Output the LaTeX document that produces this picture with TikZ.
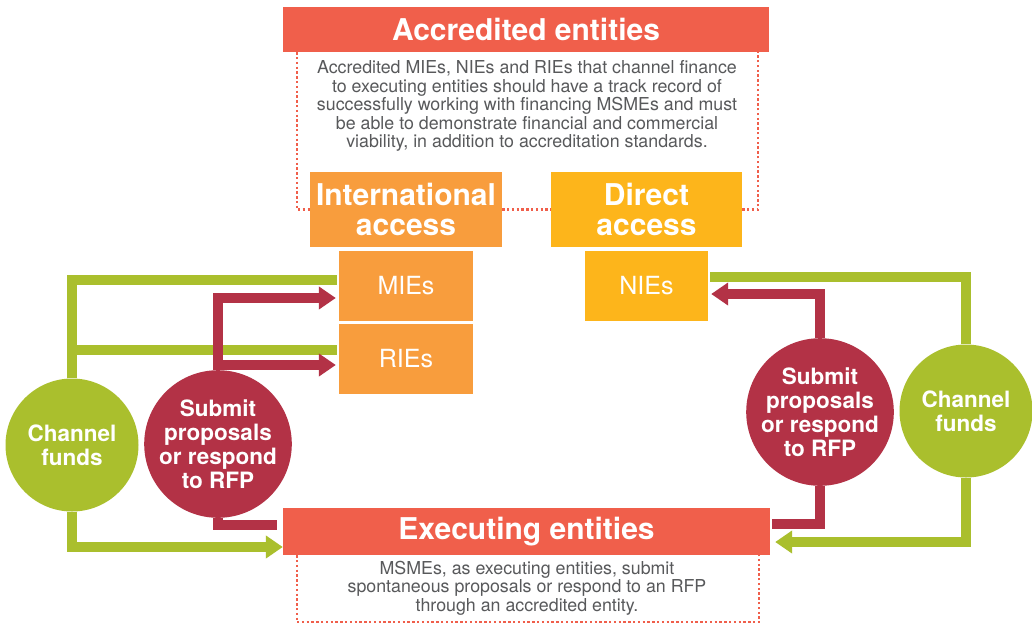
\documentclass[tikz,border=0pt]{standalone}
\usepackage{fontspec}
\setmainfont{TeX Gyre Heros}
\usepackage{xcolor}
\usetikzlibrary{arrows.meta}
\definecolor{Coral}{HTML}{F05F4B}
\definecolor{Orange}{HTML}{F89D3D}
\definecolor{Yellow}{HTML}{FDB51B}
\definecolor{Leaf}{HTML}{AABF2D}
\definecolor{Wine}{HTML}{B33246}
\definecolor{Slate}{HTML}{58595B}

\begin{document}
\begin{tikzpicture}[x=1pt,y=-1pt,
  bar/.style={fill=Coral,text=white,inner sep=0pt,font=\fontsize{30}{31}\selectfont\bfseries},
  tile/.style={fill=#1,text=white,inner sep=0pt,align=center},
  blob/.style={circle,fill=#1,text=white,inner sep=0pt,minimum size=133pt,align=center,font=\fontsize{22.5}{24}\selectfont\bfseries},
  note/.style={text=Slate,align=center,font=\fontsize{17.8}{18.5}\selectfont},
  dotbox/.style={Coral,line width=2.4pt,dash pattern=on 2.4pt off 2.4pt},
  gline/.style={Leaf,line width=10pt},
  rline/.style={Wine,line width=10pt},
  arrowhd/.style={-{Triangle[length=17pt,width=22pt]}}]
  \path[use as bounding box,fill=white] (0,0) rectangle (1032,627);
  % accredited entities
  \node[bar,minimum width=486pt,minimum height=45pt] (acc) at (526,29.5) {Accredited entities};
  \node[note] (acctxt) at (527,106) {Accredited MIEs, NIEs and RIEs that channel finance\\
    to executing entities should have a track record of\\
    successfully working with financing MSMEs and must\\
    be able to demonstrate financial and commercial\\
    viability, in addition to accreditation standards.};
  \node[tile=Orange,minimum width=192pt,minimum height=75pt,font=\fontsize{30}{30}\selectfont\bfseries] (intl) at (406,209.5) {International\\access};
  \node[tile=Yellow,minimum width=191pt,minimum height=75pt,font=\fontsize{30}{30}\selectfont\bfseries] (dir) at (646.5,209.5) {Direct\\access};
  \foreach \n/\y/\l in {mie/286/MIEs, rie/359/RIEs}
    {\node[tile=Orange,minimum width=134pt,minimum height=70pt,font=\fontsize{25}{26}\selectfont] (\n) at (406,\y) {\l};}
  \node[tile=Yellow,minimum width=123pt,minimum height=70pt,font=\fontsize{25}{26}\selectfont] (nie) at (646.5,286) {NIEs};
  \draw[dotbox] ([xshift=14pt]acc.south west) |- (intl.west);
  \draw[dotbox] (intl.east) -- (dir.west);
  \draw[dotbox] (dir.east) -| ([xshift=-11pt]acc.south east);
  % executing entities
  \node[bar,minimum width=487pt,minimum height=47pt] (exe) at (526.5,531.5) {Executing entities};
  \node[note] (exetxt) at (527,588) {MSMEs, as executing entities, submit\\
    spontaneous proposals or respond to an RFP\\
    through an accredited entity.};
  \draw[dotbox] ([xshift=14pt]exe.south west) -- ++(0,67) -| ([xshift=-11pt]exe.south east);
  % circles
  \node[blob=Leaf] (cfL) at (72,445) {Channel\\funds};
  \node[blob=Wine] (srL) at (218,444) {Submit\\proposals\\or respond\\to RFP};
  \node[blob=Wine] (srR) at (820,412) {Submit\\proposals\\or respond\\to RFP};
  \node[blob=Leaf] (cfR) at (966,411) {Channel\\funds};
  % left flows
  \draw[gline,shorten >=2pt] (cfL.north) |- ([yshift=6pt]mie.west);
  \draw[gline,shorten >=2pt] (cfL.north) |- ([yshift=9pt]rie.west);
  \draw[rline,arrowhd,shorten >=3pt] (srL.north) |- ([yshift=-12pt]mie.west);
  \draw[rline,arrowhd,shorten >=3pt] (srL.north) |- ([yshift=-6pt]rie.west);
  \draw[rline,shorten >=6pt] (srL.south) |- ([yshift=6.5pt]exe.west);
  \draw[gline,arrowhd] (cfL.south) |- ([yshift=-15.5pt]exe.west);
  % right flows
  \draw[gline,shorten <=2pt] ([yshift=9pt]nie.east) -| (cfR.north);
  \draw[rline,arrowhd,shorten >=3pt] (srR.north) |- ([yshift=-8pt]nie.east);
  \draw[rline,shorten >=2pt] (srR.south) |- ([yshift=7.5pt]exe.east);
  \draw[gline,arrowhd,shorten >=5pt] (cfR.south) |- ([yshift=-10.5pt]exe.east);
\end{tikzpicture}
\end{document}
